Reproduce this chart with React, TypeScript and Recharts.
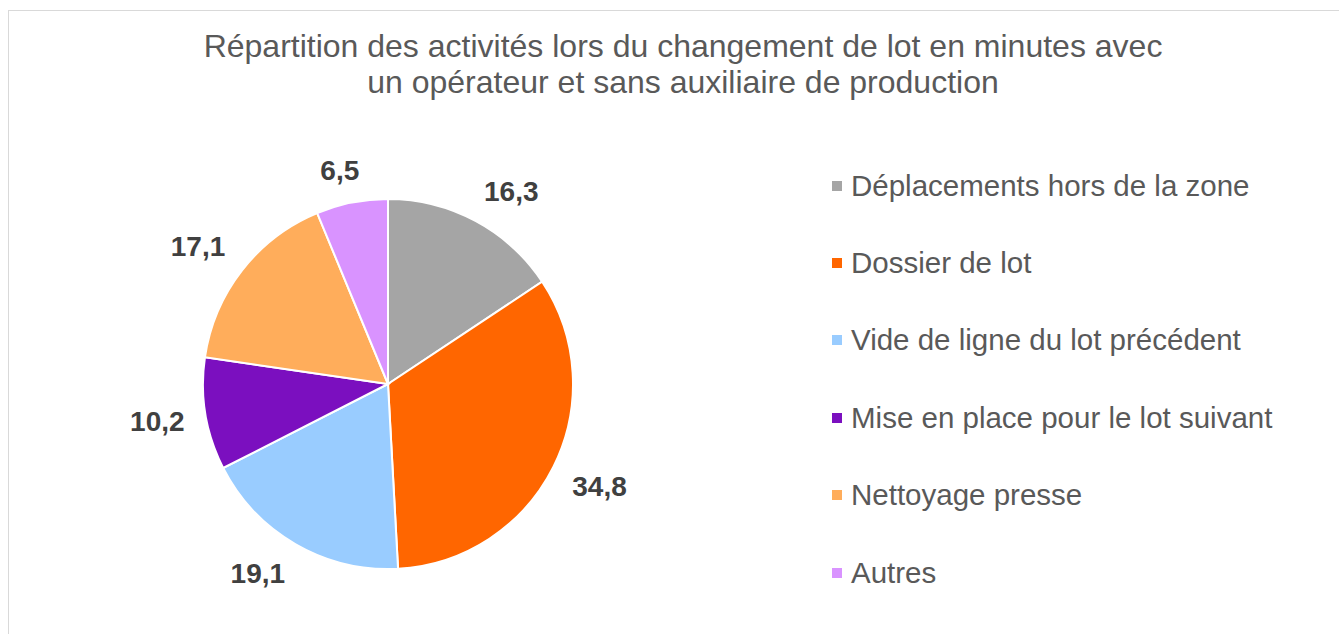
import React from 'react';
import { Cell, Legend, Pie, PieChart } from 'recharts';

const categories = [
	'Déplacements hors de la zone',
	'Dossier de lot',
	'Vide de ligne du lot précédent',
	'Mise en place pour le lot suivant',
	'Nettoyage presse',
	'Autres',
];
const minutes = [16.3, 34.8, 19.1, 10.2, 17.1, 6.5];
const colors = ['#a5a5a5', '#ff6600', '#99ccff', '#7b0fbf', '#ffad5b', '#d993ff'];
const titleLines = [
	'Répartition des activités lors du changement de lot en minutes avec',
	'un opérateur et sans auxiliaire de production',
];

const data = categories.map((name, i) => ({ name, value: minutes[i] }));

const FONT = '"Liberation Sans", Arial, sans-serif';
const RAD = Math.PI / 180;
const clamp = (v: number) => Math.max(-1, Math.min(1, v));

// "outside end" labels: the box sits next to a point just outside the slice
const renderLabel = (props: any) => {
	const { cx, cy, midAngle, outerRadius, value } = props;
	const text = value.toFixed(1).replace('.', ',');
	const w = text.length * 13.7;
	const h = 22;
	const c = Math.cos(midAngle * RAD);
	const s = Math.sin(midAngle * RAD);
	const r = outerRadius + 21;
	const x = cx + r * c + (w / 2) * clamp(2 * c);
	const y = cy - r * s - (h / 2) * clamp(2 * s);
	return (
		<text
			x={x}
			y={y}
			fill="#404040"
			fontSize={28}
			fontWeight="bold"
			fontFamily={FONT}
			textAnchor="middle"
			dominantBaseline="central"
		>
			{text}
		</text>
	);
};

// legend keeps the category order (Recharts would sort it by name)
const renderLegend = () => (
	<ul style={{ listStyle: 'none', margin: 0, padding: 0 }}>
		{categories.map((name, i) => (
			<li
				key={name}
				style={{
					display: 'flex',
					alignItems: 'center',
					height: 77.4,
					fontFamily: FONT,
					fontSize: 29.5,
					color: '#595959',
					whiteSpace: 'nowrap',
				}}
			>
				<span
					style={{
						display: 'inline-block',
						width: 10,
						height: 10,
						background: colors[i],
						marginRight: 9,
					}}
				/>
				{name}
			</li>
		))}
	</ul>
);

export default function App() {
	return (
		<div
			style={{
				position: 'absolute',
				left: 8,
				top: 10,
				width: 1331,
				height: 624,
				boxSizing: 'border-box',
				borderTop: '1px solid #d9d9d9',
				borderLeft: '1px solid #d9d9d9',
				background: '#fff',
			}}
		>
			<div
				style={{
					position: 'absolute',
					left: 0,
					top: 17,
					width: 1348,
					textAlign: 'center',
					fontFamily: FONT,
					fontSize: 32,
					lineHeight: '36px',
					color: '#595959',
				}}
			>
				{titleLines.map((line, i) => (
					<div key={i}>{line}</div>
				))}
			</div>
			<PieChart
				width={1330}
				height={623}
				margin={{ top: 0, right: 0, bottom: 0, left: 0 }}
			>
				<Pie
					data={data}
					dataKey="value"
					nameKey="name"
					cx={379}
					cy={373}
					outerRadius={185}
					startAngle={90}
					endAngle={-270}
					stroke="#ffffff"
					strokeWidth={2}
					label={renderLabel}
					labelLine={false}
					isAnimationActive={false}
				>
					{data.map((d, i) => (
						<Cell key={d.name} fill={colors[i]} />
					))}
				</Pie>
				<Legend
					layout="vertical"
					align="right"
					verticalAlign="top"
					content={renderLegend}
					wrapperStyle={{ left: 823, top: 136, width: 500 }}
				/>
			</PieChart>
		</div>
	);
}
